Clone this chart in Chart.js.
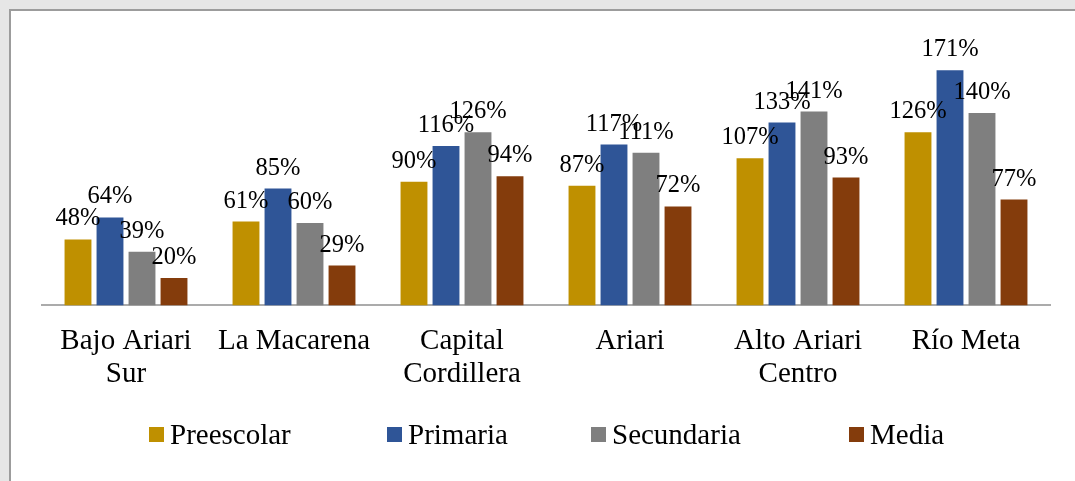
<!DOCTYPE html>
<html>
<head>
<meta charset="utf-8">
<script src="https://cdn.jsdelivr.net/npm/chart.js@4.4.1/dist/chart.umd.min.js"></script>
<style>
  html, body { margin: 0; padding: 0; width: 1075px; height: 481px; overflow: hidden; background: #e6e6e6; }
  #frame { position: absolute; left: 9px; top: 9px; width: 1100px; height: 500px; background: #ffffff; border-left: 2px solid #9c9c9c; border-top: 2px solid #9c9c9c; box-sizing: border-box; }
  #wrap { position: absolute; left: 0; top: 0; width: 1075px; height: 481px; }
</style>
</head>
<body>
<div id="frame"></div>
<div id="wrap"><canvas id="c" width="1075" height="481"></canvas></div>
<script>
// ---- data ----
const categories = [["Bajo Ariari", "Sur"], "La Macarena", ["Capital", "Cordillera"], "Ariari", ["Alto Ariari", "Centro"], "Río Meta"];
const seriesNames = ["Preescolar", "Primaria", "Secundaria", "Media"];
const preescolar = [48, 61, 90, 87, 107, 126];
const primaria   = [64, 85, 116, 117, 133, 171];
const secundaria = [39, 60, 126, 111, 141, 140];
const media      = [20, 29, 94, 72, 93, 77];
const seriesColors = ["#BF9000", "#2F5597", "#7F7F7F", "#843C0C"];

const FONT = "'Liberation Serif', 'Times New Roman', serif";

const valueLabels = {
  id: 'valueLabels',
  afterDatasetsDraw(chart) {
    const ctx = chart.ctx;
    ctx.save();
    ctx.font = "24.5px " + FONT;
    ctx.fillStyle = "#000";
    ctx.textAlign = "center";
    ctx.textBaseline = "alphabetic";
    chart.data.datasets.forEach((ds, di) => {
      const meta = chart.getDatasetMeta(di);
      meta.data.forEach((el, i) => {
        ctx.fillText(ds.data[i] + "%", el.x, el.y - 14);
      });
    });
    ctx.restore();
  }
};

const customLegend = {
  id: 'customLegend',
  afterDraw(chart) {
    const ctx = chart.ctx;
    const starts = [149, 387, 591, 849];
    const cy = 435;
    ctx.save();
    ctx.font = "29px " + FONT;
    ctx.textBaseline = "middle";
    ctx.textAlign = "left";
    chart.data.datasets.forEach((ds, i) => {
      const x = starts[i];
      ctx.fillStyle = ds.backgroundColor;
      ctx.fillRect(x, cy - 8, 15, 15);
      ctx.fillStyle = "#000";
      ctx.fillText(ds.label, x + 21, cy + 1);
    });
    ctx.restore();
  }
};

const allSeries = [preescolar, primaria, secundaria, media];

new Chart(document.getElementById('c'), {
  type: 'bar',
  data: {
    labels: categories,
    datasets: allSeries.map((d, i) => ({
      label: seriesNames[i],
      data: d,
      backgroundColor: seriesColors[i],
      borderWidth: 0,
      categoryPercentage: 0.762,
      barPercentage: 0.84
    }))
  },
  options: {
    responsive: false,
    animation: false,
    events: [],
    layout: { padding: { left: 42, right: 25, top: 58, bottom: 70 } },
    plugins: {
      legend: { display: false },
      tooltip: { enabled: false }
    },
    scales: {
      y: { display: false, min: 0, max: 180 },
      x: {
        grid: { display: false, drawTicks: false },
        border: { display: true, color: "#ababab", width: 2 },
        ticks: {
          color: "#000",
          padding: 20,
          maxRotation: 0,
          autoSkip: false,
          font: { family: FONT, size: 29, lineHeight: 1.13 }
        }
      }
    }
  },
  plugins: [valueLabels, customLegend]
});
</script>
</body>
</html>
